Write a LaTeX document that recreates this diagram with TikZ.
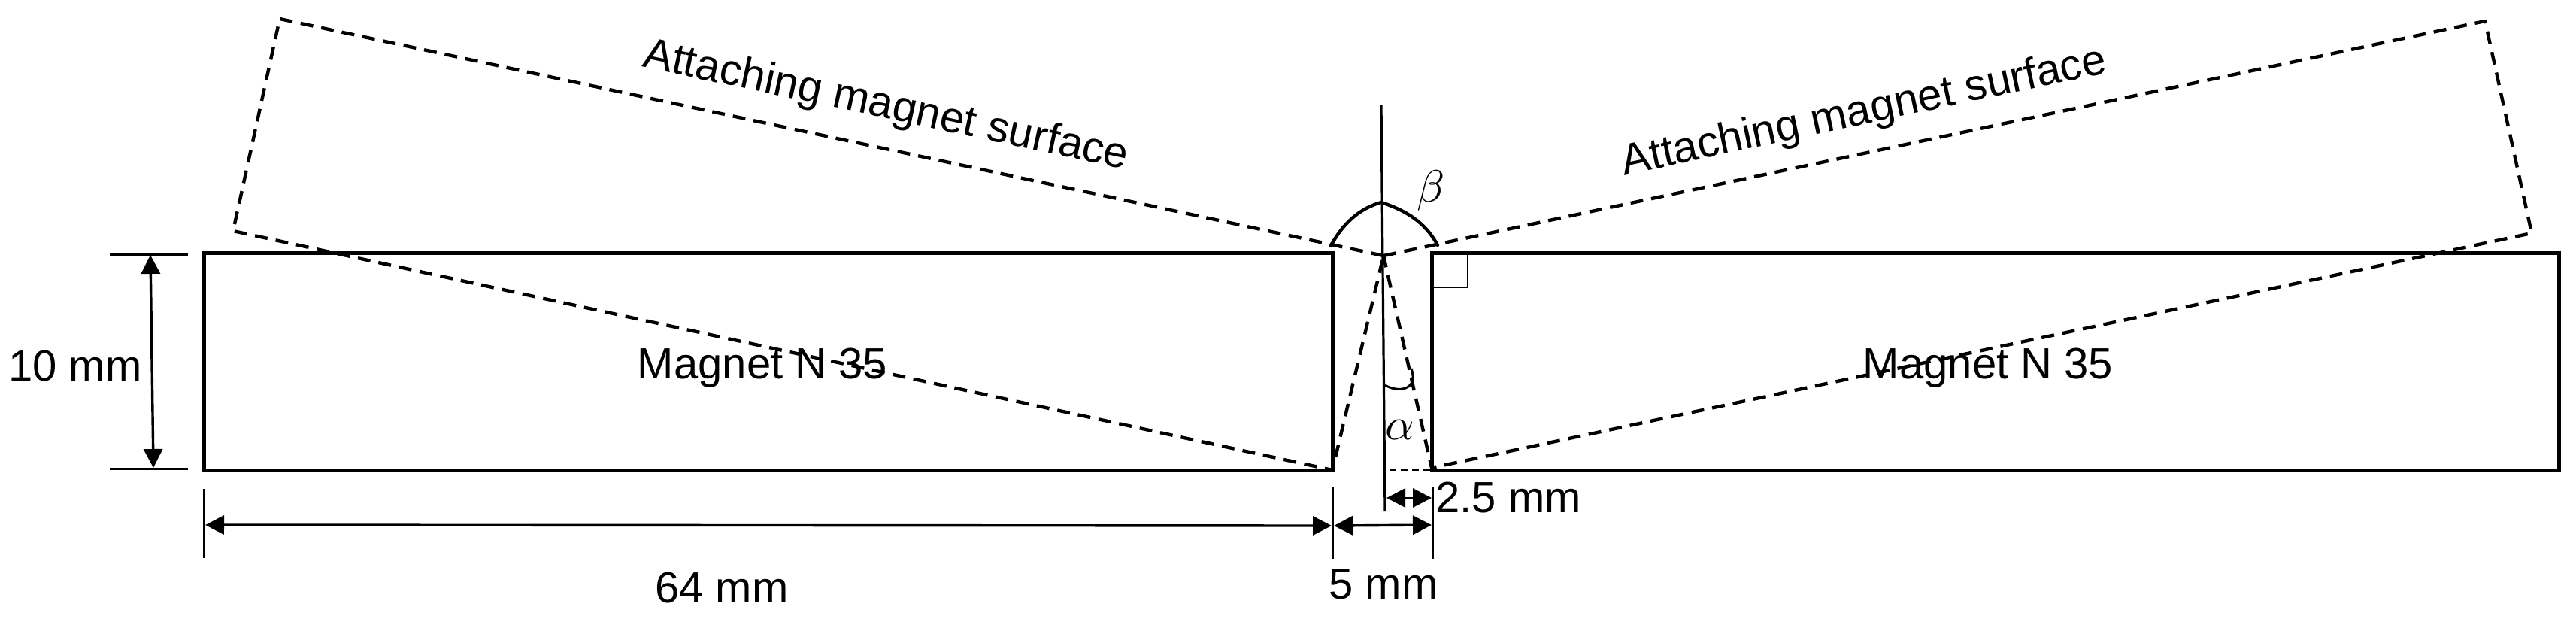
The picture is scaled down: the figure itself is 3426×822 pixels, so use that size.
\documentclass[tikz,border=0pt]{standalone}
\usepackage{fontspec}
\setmainfont{Liberation Sans}
\usetikzlibrary{arrows.meta}
\tikzset{
  magnet/.style={draw=black,line width=5pt,line join=miter},
  tilted/.style={draw=black,line width=4.4pt,dash pattern=on 17pt off 11pt,line join=round},
  thinline/.style={draw=black,line width=3pt},
  dimarrow/.style={draw=black,line width=3.4pt,{Triangle[length=25pt,width=25pt]}-{Triangle[length=25pt,width=25pt]}},
  anglearc/.style={draw=black,line width=4.4pt,line cap=round},
  smallarc/.style={draw=black,line width=3pt},
  label/.style={inner sep=0pt,font=\fontsize{58}{60}\selectfont},
  greek/.style={inner sep=0pt,scale=6}
}
\begin{document}
\begin{tikzpicture}[x=1pt,y=-1pt]
\useasboundingbox (0,0) rectangle (3426,822);
% solid magnets
\draw[magnet] (271,336) rectangle (1772,625);
\draw[magnet] (1904,336) rectangle (3403,625);
% key points
\coordinate (apex) at (1840,340);
\coordinate (ltop) at (372,25);
\coordinate (lbot) at (310,307);
\coordinate (lend) at (1772,625);
\coordinate (rtop) at (3305,28);
\coordinate (rbot) at (3367,310);
\coordinate (rend) at (1904,622);
% tilted magnets
\draw[tilted] (apex) -- (ltop) -- (lbot) -- (lend) -- cycle;
\draw[tilted] (apex) -- (rtop) -- (rbot) -- (rend) -- cycle;
% centre line
\coordinate (ctop) at (1837,140);
\coordinate (cbot) at (1842,680);
\draw[draw=black,line width=3.2pt] (ctop) -- (cbot);
% beta arc
\coordinate (ba) at (1770,327);
\coordinate (bb) at (1837,269);
\coordinate (bc) at (1912,326);
\draw[anglearc] (ba) .. controls (1785,298) and (1808,277) .. (bb) .. controls (1870,280) and (1895,295) .. (bc);
% alpha arc
\coordinate (aa) at (1842,512);
\coordinate (ab) at (1877,490);
\draw[smallarc] (aa) .. controls (1858,522) and (1887,520) .. (ab);
% right-angle mark
\coordinate (ra1) at (1952,336);
\coordinate (ra2) at (1952,382);
\coordinate (ra3) at (1904,382);
\draw[draw=black,line width=2.8pt] (ra1) -- (ra2) -- (ra3);
% short dashed base line
\coordinate (sd1) at (1848,625);
\coordinate (sd2) at (1902,625);
\draw[draw=black,line width=2.4pt,dash pattern=on 9pt off 6pt] (sd1) -- (sd2);
% extension lines
\coordinate (h1a) at (146,338); \coordinate (h1b) at (250,338);
\coordinate (h2a) at (146,623); \coordinate (h2b) at (250,623);
\draw[thinline] (h1a) -- (h1b);
\draw[thinline] (h2a) -- (h2b);
\coordinate (v1a) at (271,650); \coordinate (v1b) at (271,742);
\coordinate (v2a) at (1772,648); \coordinate (v2b) at (1772,743);
\coordinate (v3a) at (1905,648); \coordinate (v3b) at (1905,743);
\draw[thinline] (v1a) -- (v1b);
\draw[thinline] (v2a) -- (v2b);
\draw[thinline] (v3a) -- (v3b);
% dimension arrows
\coordinate (d10a) at (200,339); \coordinate (d10b) at (204,622);
\draw[dimarrow] (d10a) -- (d10b);
\coordinate (d64a) at (273,698); \coordinate (d64b) at (1771,699);
\draw[dimarrow] (d64a) -- (d64b);
\coordinate (d5a) at (1774,699); \coordinate (d5b) at (1904,698);
\draw[dimarrow] (d5a) -- (d5b);
\coordinate (d25a) at (1844,662); \coordinate (d25b) at (1904,662);
\draw[dimarrow,line width=3pt] (d25a) -- (d25b);
% labels
\node[label] (t10) at (100,487) {10 mm};
\node[label] (t64) at (960,782) {64 mm};
\node[label] (t5) at (1840,777) {5 mm};
\node[label] (t25) at (2006,662) {2.5 mm};
\node[label] (m1) at (1014,489) {Magnet N 35};
\node[label] (m2) at (2644,489) {Magnet N 35};
\node[label,rotate=-12] (s1) at (1178,142) {Attaching magnet surface};
\node[label,rotate=12] (s2) at (2479,150) {Attaching magnet surface};
\node[greek] (beta) at (1903,253) {$\beta$};
\node[greek] (alpha) at (1862,572) {$\alpha$};
\end{tikzpicture}
\end{document}
